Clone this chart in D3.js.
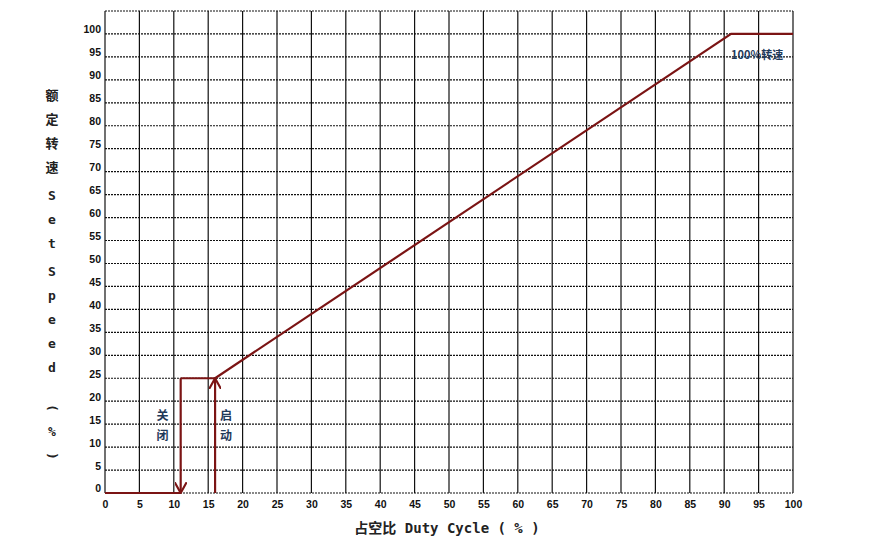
<!DOCTYPE html>
<html><head><meta charset="utf-8">
<script src="https://cdn.jsdelivr.net/npm/d3@7"></script>
<style>body{margin:0;background:#fff}</style></head>
<body><div id="chart"></div>
<script>
const xTicks = d3.range(0, 101, 5);
const yTicks = d3.range(0, 101, 5);
const curveX = [0, 11];          // off segment along 0
const curveOn = [[16, 25], [91, 100], [100, 100]];
const offX = 11, onX = 16, stepY = 25;

const W = 871, H = 553;
const x = d3.scaleLinear().domain([0, 100]).range([105, 793]);
const y = d3.scaleLinear().domain([0, 105]).range([493, 11]);
const red = "#7b1414", ink = "#1f3a5a";

const svg = d3.select("#chart").append("svg").attr("width", W).attr("height", H)
  .style("font-family", "Liberation Sans, Arial, sans-serif");

svg.append("defs").append("marker").attr("id", "arr")
  .attr("viewBox", "0 0 10 10").attr("refX", 9).attr("refY", 5)
  .attr("markerWidth", 12).attr("markerHeight", 12).attr("markerUnits", "userSpaceOnUse")
  .attr("orient", "auto")
  .append("path").attr("d", "M0,0L9,5L0,10").attr("fill", "none").attr("stroke", red).attr("stroke-width", 1.8);

// grid
svg.selectAll("line.v").data(xTicks).enter().append("line")
  .attr("x1", d => x(d)).attr("x2", d => x(d)).attr("y1", y(105)).attr("y2", y(0))
  .attr("stroke", "#111").attr("stroke-width", 1.2);
svg.selectAll("line.h").data(yTicks.concat([105])).enter().append("line")
  .attr("x1", x(0)).attr("x2", x(100)).attr("y1", d => y(d)).attr("y2", d => y(d))
  .attr("stroke", "#111").attr("stroke-width", 1.2).attr("stroke-dasharray", "2,1");

// axes
const ax = svg.append("g").attr("transform", `translate(0,${y(0)})`)
  .call(d3.axisBottom(x).tickValues(xTicks).tickSize(0).tickPadding(8));
const ay = svg.append("g").attr("transform", `translate(${x(0)},0)`)
  .call(d3.axisLeft(y).tickValues(yTicks).tickSize(0).tickPadding(4));
[ax, ay].forEach(g => { g.select(".domain").remove();
  g.selectAll("text").attr("font-size", 10.5).attr("font-weight", "bold").attr("fill", "#111"); });
ay.selectAll("text").attr("dy", "-0.1em");

// curve
svg.append("path").attr("d", d3.line().x(d => x(d)).y(y(0))(curveX))
  .attr("stroke", red).attr("stroke-width", 2.2).attr("fill", "none");
svg.append("path")
  .attr("d", d3.line()([[x(offX), y(stepY)], [x(onX), y(stepY)]]))
  .attr("stroke", red).attr("stroke-width", 2.2).attr("fill", "none");
svg.append("path").attr("d", d3.line()([[x(offX), y(stepY)], [x(offX), y(0)]]))
  .attr("stroke", red).attr("stroke-width", 2.2).attr("marker-end", "url(#arr)");
svg.append("path").attr("d", d3.line()([[x(onX), y(0)], [x(onX), y(stepY)]]))
  .attr("stroke", red).attr("stroke-width", 2.2).attr("marker-end", "url(#arr)");
svg.append("path").datum(curveOn).attr("d", d3.line().x(d => x(d[0])).y(d => y(d[1])))
  .attr("stroke", red).attr("stroke-width", 2.2).attr("fill", "none");

// labels
const lab = (t, px, py) => svg.append("text").attr("x", px).attr("y", py).text(t)
  .attr("font-family", "Noto Sans CJK SC").attr("font-size", 12).attr("font-weight", "bold").attr("fill", ink);
lab("关", x(7.5), y(16)); lab("闭", x(7.5), y(11.5));
lab("启", x(16.7), y(16)); lab("动", x(16.7), y(11.5));
lab("100%转速", x(91), y(94.5)).attr("font-size", 11);

// y title
const yt = ["额","定","转","速","","S","e","t","","S","p","e","e","d","","(","%",")"];
const ypos = [100,124,148,172,0,200,224,248,0,276,300,324,348,372,0,412,436,460];
yt.forEach((c, i) => { if (c) svg.append("text").attr("x", 52).attr("y", ypos[i]).attr("text-anchor","middle")
  .attr("font-family", c.charCodeAt(0) > 255 ? "Noto Sans CJK SC" : "DejaVu Sans Mono")
  .attr("font-size", 13).attr("font-weight", "bold").attr("fill", "#222")
  .attr("transform", c === "(" || c === ")" ? `rotate(90,52,${ypos[i]-4})` : null).text(c); });

svg.append("text").attr("x", 447).attr("y", 533).attr("text-anchor", "middle")
  .attr("font-size", 14).attr("font-weight", "bold").attr("fill", "#222")
  .attr("font-family", "DejaVu Sans Mono, Noto Sans CJK SC").text("占空比 Duty Cycle ( % )");
</script></body></html>
